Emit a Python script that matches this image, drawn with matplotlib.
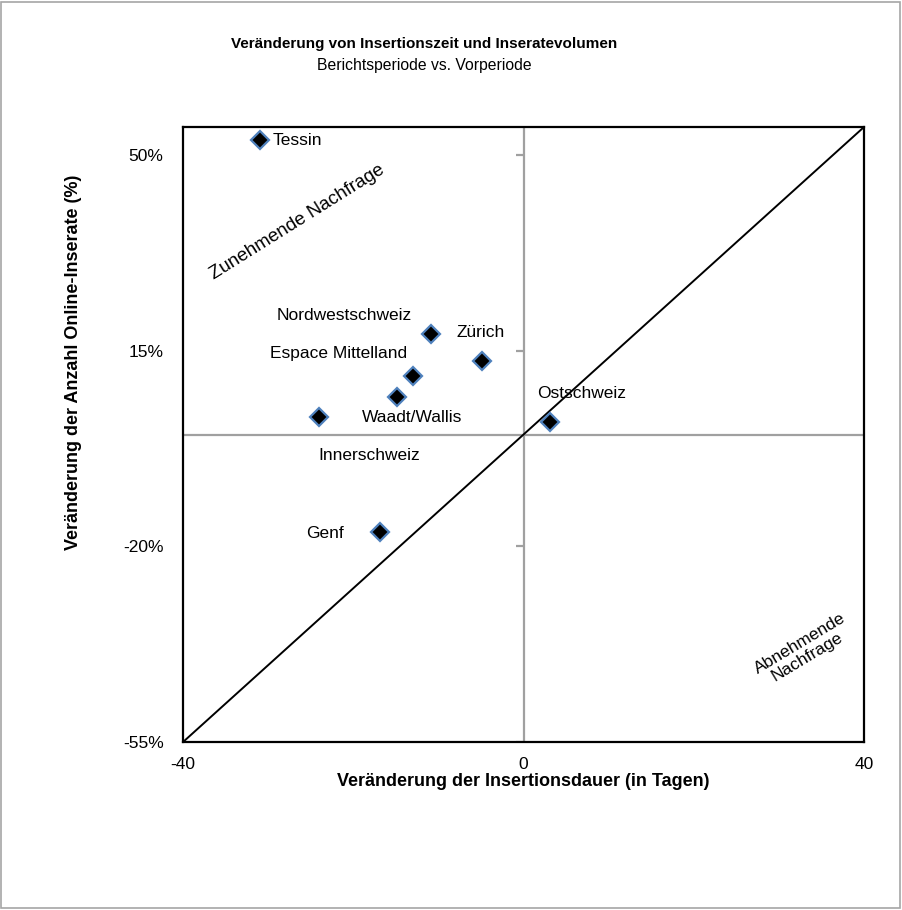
import matplotlib
matplotlib.use("Agg")
import matplotlib.pyplot as plt
import numpy as np

plt.rcParams['font.family'] = ['Liberation Sans', 'DejaVu Sans']
plt.rcParams['axes.unicode_minus'] = False

# Daten: Veränderung Insertionsdauer (Tage) vs. Anzahl Online-Inserate (%)
regions = ['Tessin', 'Nordwestschweiz', 'Zürich', 'Espace Mittelland',
           'Waadt/Wallis', 'Innerschweiz', 'Ostschweiz', 'Genf']
delta_days = [-31.0, -10.9, -4.9, -13.0, -14.9, -24.0, 3.1, -16.9]
delta_ads = [52.6, 18.0, 13.2, 10.4, 6.7, 3.1, 2.2, -17.5]

x_ticks = [-40, 0, 40]
y_ticks = [-55, -20, 15, 50]
y_ticklabels = ['-55%', '-20%', '15%', '50%']

# Label-Versatz in Pixeln (dx, dy) und Ausrichtung
label_offsets = {
    'Tessin': (13, 0, 'left'),
    'Nordwestschweiz': (-86, 18, 'center'),
    'Zürich': (-1, 28, 'center'),
    'Espace Mittelland': (-74, 23, 'center'),
    'Waadt/Wallis': (15, -20, 'center'),
    'Innerschweiz': (50, -38, 'center'),
    'Ostschweiz': (32, 29, 'center'),
    'Genf': (-55, -1, 'center'),
}

fig = plt.figure(figsize=(9.03, 9.10), dpi=100)
fig.patch.set_facecolor('white')
fig.patches.append(plt.Rectangle((0.001, 0.002), 0.996, 0.996, transform=fig.transFigure,
                                 fill=False, edgecolor='#A6A6A6', linewidth=1.2))

ax = fig.add_axes([0.2027, 0.1846, 0.7541, 0.6758])
ax.set_xlim(-40, 40)
ax.set_ylim(-55, 55)

# Achsenkreuz bei 0
ax.axhline(0, color='#A0A0A0', linewidth=1.6, zorder=1)
ax.axvline(0, color='#A0A0A0', linewidth=1.6, zorder=1)
ax.plot(np.zeros(len(y_ticks)), y_ticks, linestyle='none', marker=0,
        markersize=6, markeredgewidth=1.6, color='#A0A0A0', zorder=1)

# Diagonale
ax.plot([-40, 40], [-55, 55], color='black', linewidth=1.4, zorder=2)

ax.plot(delta_days, delta_ads, linestyle='none', marker='D', markersize=9,
        markerfacecolor='black', markeredgecolor='#4F81BD', markeredgewidth=1.6,
        zorder=3, clip_on=False)

for name, xv, yv in zip(regions, delta_days, delta_ads):
    dx, dy, ha = label_offsets[name]
    ax.annotate(name, (xv, yv), xytext=(dx, dy), textcoords='offset pixels',
                ha=ha, va='center', fontsize=12.5)

ax.text(-26.6, 38, 'Zunehmende Nachfrage', rotation=32, ha='center', va='center',
        fontsize=13.5, rotation_mode='anchor')
ax.text(32.9, -38.6, 'Abnehmende\nNachfrage', rotation=31, ha='center', va='center',
        fontsize=12.5, rotation_mode='anchor', linespacing=1.0)

for s in ax.spines.values():
    s.set_color('black')
    s.set_linewidth(1.6)

ax.set_xticks(x_ticks)
ax.set_yticks(y_ticks)
ax.set_yticklabels(y_ticklabels)
ax.tick_params(axis='both', length=0, labelsize=12.5, colors='black')
ax.tick_params(axis='y', pad=14)
ax.tick_params(axis='x', pad=11)

ax.set_xlabel('Veränderung der Insertionsdauer (in Tagen)', fontsize=13, fontweight='bold')
ax.xaxis.set_label_coords(0.5, -0.051)
ax.set_ylabel('Veränderung der Anzahl Online-Inserate (%)', fontsize=13, fontweight='bold')
ax.yaxis.set_label_coords(-0.148, 0.618)

fig.text(0.4695, 0.9516, 'Veränderung von Insertionszeit und Inseratevolumen',
         ha='center', va='center', fontsize=11, fontweight='bold')
fig.text(0.4695, 0.9275, 'Berichtsperiode vs. Vorperiode', ha='center', va='center', fontsize=11.3)

fig.savefig('out.png', dpi=100, facecolor='white')
